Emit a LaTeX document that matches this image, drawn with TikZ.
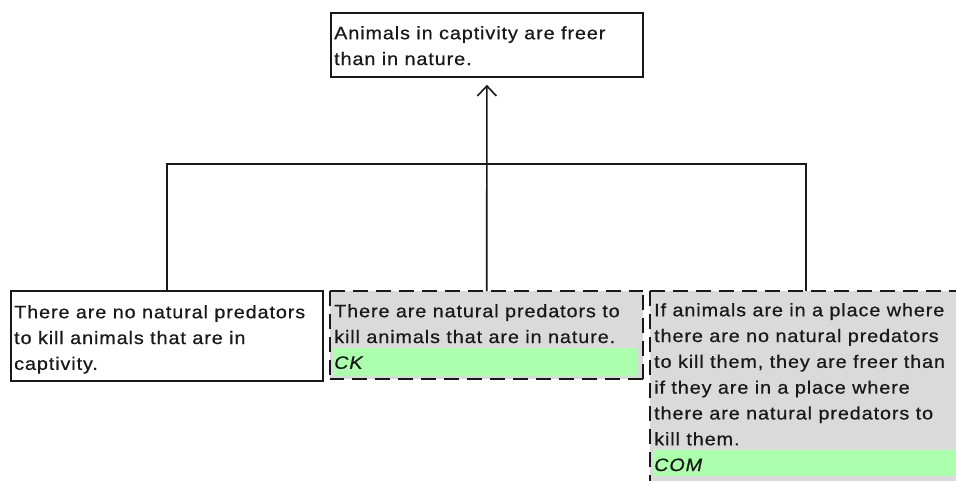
\documentclass[tikz,border=0pt]{standalone}
\usepackage{fontspec}
\setmainfont{Liberation Sans}[FakeStretch=1.1,LetterSpace=5,FakeBold=0.6]
\usetikzlibrary{arrows.meta}
\definecolor{boxgray}{RGB}{218,218,218}
\definecolor{tagGreen}{RGB}{172,255,172}
\definecolor{ink}{RGB}{25,25,25}
\begin{document}
\begin{tikzpicture}[x=1pt,y=-1pt,
  plainbox/.style={draw=ink,line width=1.8pt,fill=white,anchor=north west,inner sep=0pt},
  dashbox/.style={fill=boxgray,anchor=north west,inner sep=0pt},
  dashseg/.style={draw=ink,line width=1.8pt},
  tagband/.style={fill=tagGreen,anchor=north west,inner sep=0pt},
  txt/.style={anchor=north west,inner sep=0pt,align=left,text=ink,font=\fontsize{18}{25.8}\selectfont},
  link/.style={draw=ink,line width=1.6pt},
]
\clip (0,0) rectangle (956,481);
\fill[white] (0,0) rectangle (956,481);

% boxes
\node[plainbox,minimum width=312,minimum height=64] (claim) at (330,12) {};
\node[plainbox,minimum width=312,minimum height=90] (b1) at (10,290) {};
\node[dashbox,minimum width=313,minimum height=88] (b2) at (330,291) {};
\node[dashbox,minimum width=312,minimum height=200] (b3) at (650,291) {};

% dashed borders (drawn as separate dashes)
\foreach \i in {0,...,13} {
  \pgfmathsetmacro\xa{330+23*\i}
  \pgfmathsetmacro\xb{min(\xa+15,643)}
  \draw[dashseg] (\xa,291) -- (\xb,291);
  \pgfmathsetmacro\xc{643-23*\i}
  \pgfmathsetmacro\xd{max(\xc-15,330)}
  \draw[dashseg] (\xc,379) -- (\xd,379);
}
\foreach \i in {0,...,3} {
  \pgfmathsetmacro\ya{291+23*\i}
  \pgfmathsetmacro\yb{min(\ya+15,379)}
  \draw[dashseg] (330,\ya) -- (330,\yb);
  \pgfmathsetmacro\yc{379-23*\i}
  \pgfmathsetmacro\yd{max(\yc-15,291)}
  \draw[dashseg] (643,\yc) -- (643,\yd);
}
\foreach \i in {0,...,13} {
  \pgfmathsetmacro\xa{650+23*\i}
  \draw[dashseg] (\xa,291) -- ({\xa+15},291);
}
\foreach \i in {0,...,8} {
  \pgfmathsetmacro\ya{291+23*\i}
  \draw[dashseg] (650,\ya) -- (650,{\ya+15});
}

% green tag bands
\node[tagband,minimum width=304,minimum height=28] (g2) at (333,347) {};
\node[tagband,minimum width=306,minimum height=27] (g3) at (653,449) {};

% texts
\node[txt] (t0) at (334,26) {Animals in captivity are freer\\than in nature.};
\node[txt] (t1) at (14,305) {There are no natural predators\\to kill animals that are in\\captivity.};
\node[txt] (t2) at (334,304) {There are natural predators to\\kill animals that are in nature.\\\textit{CK}};
\node[txt] (t3) at (654,303) {If animals are in a place where\\there are no natural predators\\to kill them, they are freer than\\if they are in a place where\\there are natural predators to\\kill them.\\\textit{COM}};

% connectors
\coordinate (bar) at (486,164);
\draw[link] (b1.north) -- (b1.north |- bar) -- (b3.north |- bar) -- (b3.north);
\draw[link,-{Straight Barb[length=10pt,width=19pt]},shorten >=7pt] (b2.north) -- (claim.south);
\end{tikzpicture}
\end{document}
